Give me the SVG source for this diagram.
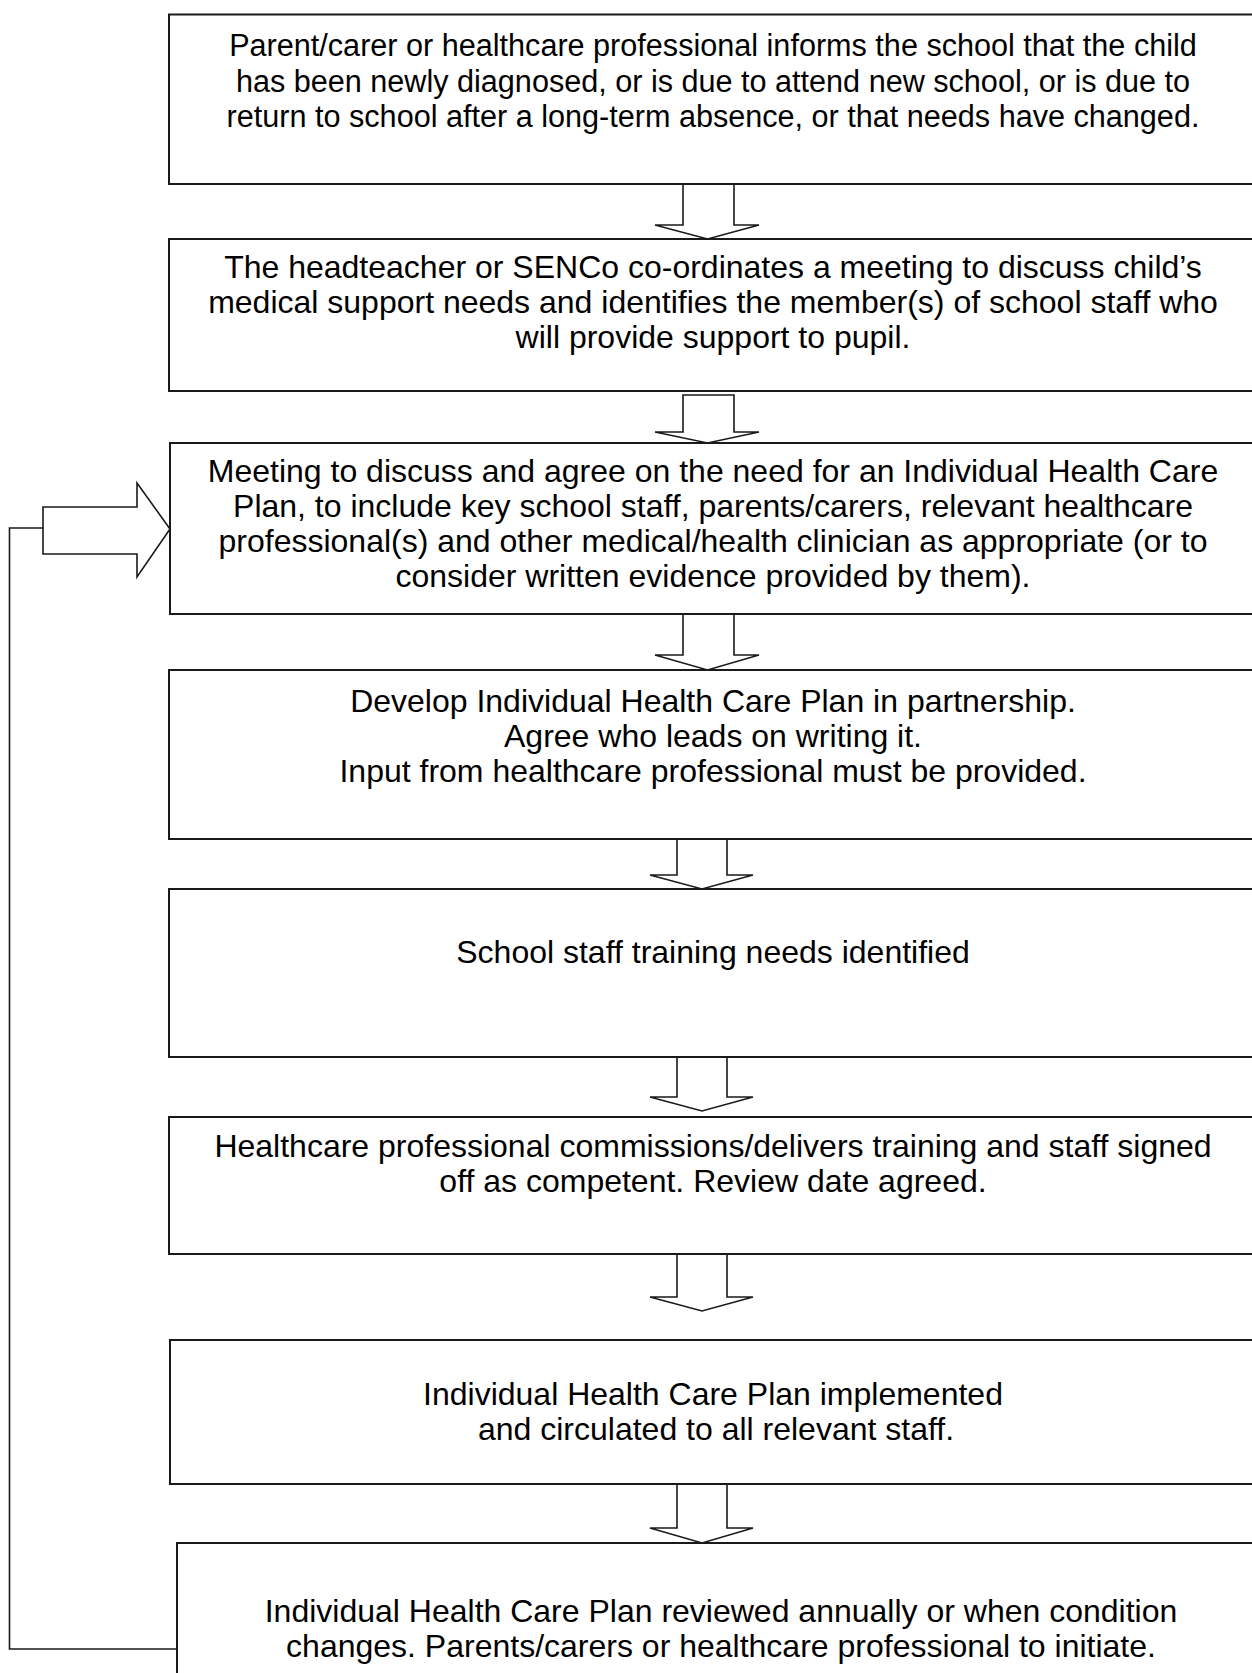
<svg xmlns="http://www.w3.org/2000/svg" width="1252" height="1673" viewBox="0 0 1252 1673">
<style>
.box{fill:#fff;stroke:#1a1a1a;stroke-width:2}
.arr{fill:#fff;stroke:#1a1a1a;stroke-width:1.6;stroke-linejoin:miter}
.line{fill:none;stroke:#1a1a1a;stroke-width:1.6}
text{font-family:"Liberation Sans",Arial,sans-serif;font-size:32px;fill:#000;text-anchor:middle}
.s{font-size:30.6px}
</style>
<rect x="0" y="0" width="1252" height="1673" fill="#fff"/>
<g id="connectors">
<polygon class="arr" points="683,184 734,184 734,225 759,225 707.5,239 655,225 683,225"/>
<polygon class="arr" points="683,395 734,395 734,432 759,432 707.5,443 655,432 683,432"/>
<polygon class="arr" points="683,614 734,614 734,655 759,655 707.5,670 655,655 683,655"/>
<polygon class="arr" points="677,839 727,839 727,875 753,875 702,889 650,875 677,875"/>
<polygon class="arr" points="677,1057 727,1057 727,1097 753,1097 702,1111 650,1097 677,1097"/>
<polygon class="arr" points="677,1254 727,1254 727,1297 753,1297 702,1311 650,1297 677,1297"/>
<polygon class="arr" points="677,1484 727,1484 727,1528 753,1528 702,1543 650,1528 677,1528"/>
<polyline class="line" points="177,1649 9.5,1649 9.5,528 43,528"/>
<polygon class="arr" points="43,507 137,507 137,483 170,529 137,577 137,554 43,554"/>
</g>
<g id="n1">
<rect class="box" x="169" y="14.5" width="1100" height="169.5"/>
<text class="s" x="713" y="56">Parent/carer or healthcare professional informs the school that the child</text>
<text class="s" x="713" y="91.5">has been newly diagnosed, or is due to attend new school, or is due to</text>
<text class="s" x="713" y="127">return to school after a long-term absence, or that needs have changed.</text>
</g>
<g id="n2">
<rect class="box" x="169" y="239" width="1100" height="152"/>
<text x="713" y="278">The headteacher or SENCo co-ordinates a meeting to discuss child’s</text>
<text x="713" y="313">medical support needs and identifies the member(s) of school staff who</text>
<text x="713" y="348">will provide support to pupil.</text>
</g>
<g id="n3">
<rect class="box" x="170" y="443" width="1100" height="171"/>
<text x="713" y="482">Meeting to discuss and agree on the need for an Individual Health Care</text>
<text x="713" y="517">Plan, to include key school staff, parents/carers, relevant healthcare</text>
<text x="713" y="552">professional(s) and other medical/health clinician as appropriate (or to</text>
<text x="713" y="587">consider written evidence provided by them).</text>
</g>
<g id="n4">
<rect class="box" x="169" y="670" width="1100" height="169"/>
<text x="713" y="712">Develop Individual Health Care Plan in partnership.</text>
<text x="713" y="747">Agree who leads on writing it.</text>
<text x="713" y="782">Input from healthcare professional must be provided.</text>
</g>
<g id="n5">
<rect class="box" x="169" y="889" width="1100" height="168"/>
<text x="713" y="963">School staff training needs identified</text>
</g>
<g id="n6">
<rect class="box" x="169" y="1117" width="1100" height="137"/>
<text x="713" y="1157">Healthcare professional commissions/delivers training and staff signed</text>
<text x="713" y="1192">off as competent. Review date agreed.</text>
</g>
<g id="n7">
<rect class="box" x="170" y="1340" width="1100" height="144"/>
<text x="713" y="1405">Individual Health Care Plan implemented</text>
<text x="716" y="1440">and circulated to all relevant staff.</text>
</g>
<g id="n8">
<rect class="box" x="177" y="1543" width="1100" height="150"/>
<text x="721" y="1622">Individual Health Care Plan reviewed annually or when condition</text>
<text x="721" y="1657">changes. Parents/carers or healthcare professional to initiate.</text>
</g>
</svg>
